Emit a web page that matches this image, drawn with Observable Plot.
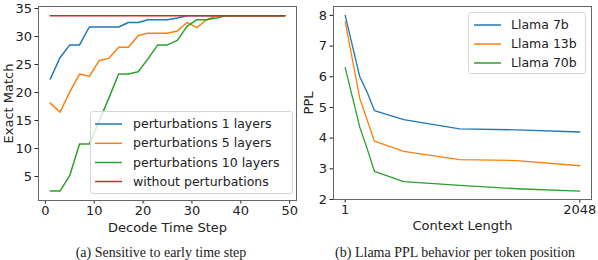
<!DOCTYPE html>
<html>
<head>
<meta charset="utf-8">
<script src="https://cdn.jsdelivr.net/npm/d3@7"></script>
<script src="https://cdn.jsdelivr.net/npm/@observablehq/plot@0.6"></script>
<style>
  body { margin: 0; background: #fff; }
  #root { position: relative; width: 598px; height: 260px; overflow: hidden; background: #fff; font-family: "DejaVu Sans", sans-serif; }
  .panel { position: absolute; top: 0; }
  .legend { position: absolute; border: 1px solid #d6d6d6; border-radius: 3px; background: rgba(255,255,255,0.8); box-sizing: border-box; }
  .legend svg { position: absolute; left: 0; top: 0; overflow: visible; }
  .legend .tx { position: absolute; white-space: nowrap; font-size: 12.5px; color: #222; line-height: 14px; transform: translateY(-7px); }
  .cap { position: absolute; font-family: "Liberation Serif", "DejaVu Serif", serif; font-size: 14px; line-height: 16px; color: #222; white-space: nowrap; transform: translateX(-50%); }
</style>
</head>
<body>
<div id="root"></div>
<script>
// ---- Left chart data (Exact Match vs decode time step) ----
const steps = [1,3,5,7,9,11,13,15,17,19,21,23,25,27,29,31,33,35,37,39,41,43,45,47,49];
const pert1  = [22.4,26.2,28.5,28.5,31.7,31.7,31.7,31.7,32.5,32.5,33.0,33.0,33.0,33.3,33.7,33.7,33.7,33.7,33.7,33.7,33.7,33.7,33.7,33.7,33.7];
const pert5  = [18.1,16.5,20.1,23.3,22.9,25.7,26.1,28.1,28.1,30.2,30.6,30.6,30.6,31.0,32.5,31.6,33.0,33.7,33.7,33.7,33.7,33.7,33.7,33.7,33.7];
const pert10 = [2.4,2.4,5.2,10.8,10.8,14.9,19.0,23.3,23.3,23.7,26.0,28.5,28.5,29.3,31.8,33.0,33.0,33.3,33.7,33.7,33.7,33.7,33.7,33.7,33.7];
const noPert = [33.7,33.7,33.7,33.7,33.7,33.7,33.7,33.7,33.7,33.7,33.7,33.7,33.7,33.7,33.7,33.7,33.7,33.7,33.7,33.7,33.7,33.7,33.7,33.7,33.7];
const leftNames = ["perturbations 1 layers","perturbations 5 layers","perturbations 10 layers","without perturbations"];
const leftColors = ["#1f77b4","#ff7f0e","#2ca02c","#d62728"];
const leftXTicks = [0,10,20,30,40,50];
const leftYTicks = [5,10,15,20,25,30,35];

// ---- Right chart data (Llama PPL vs context length) ----
const contextLen = [1,128,192,256,512,1000,1500,2048];
const llama7b  = [8.0,6.0,5.5,4.9,4.6,4.3,4.27,4.2];
const llama13b = [7.8,5.3,4.6,3.9,3.57,3.3,3.27,3.1];
const llama70b = [6.3,4.36,3.66,2.92,2.58,2.46,2.35,2.27];
const rightNames = ["Llama 7b","Llama 13b","Llama 70b"];
const rightColors = ["#1f77b4","#ff7f0e","#2ca02c"];
const rightXTicks = [1,2048];
const rightYTicks = [2,3,4,5,6,7,8];

const captions = ["(a) Sensitive to early time step", "(b) Llama PPL behavior per token position"];

const root = document.getElementById("root");
const axisStyle = {fontFamily: "'DejaVu Sans', sans-serif", fontSize: "13px", color: "#222", background: "transparent", overflow: "visible"};

// build tables
const leftSeries = [pert1, pert5, pert10, noPert];
const leftRows = [];
leftSeries.forEach((vals, i) => vals.forEach((v, j) => leftRows.push({step: steps[j], value: v, series: leftNames[i]})));
const rightSeries = [llama7b, llama13b, llama70b];
const rightRows = [];
rightSeries.forEach((vals, i) => vals.forEach((v, j) => rightRows.push({ctx: contextLen[j], value: v, series: rightNames[i]})));

const left = Plot.plot({
  width: 300, height: 235,
  marginLeft: 38, marginRight: 4, marginTop: 6, marginBottom: 35,
  style: axisStyle,
  x: {domain: [-1.4, 51.4], ticks: leftXTicks, tickFormat: d => String(d), tickSize: 3.5, tickPadding: 2, label: "Decode Time Step", labelAnchor: "center", labelOffset: 31, labelArrow: "none"},
  y: {domain: [0.72, 35.36], ticks: leftYTicks, tickFormat: d => String(d), tickSize: 3.5, tickPadding: 3, label: "Exact Match", labelAnchor: "center", labelOffset: 35, labelArrow: "none"},
  color: {domain: leftNames, range: leftColors},
  marks: [
    Plot.lineY(leftRows, {x: "step", y: "value", stroke: "series", z: "series", strokeWidth: 1.5}),
    Plot.frame({stroke: "#666", strokeWidth: 1})
  ]
});
const lp = document.createElement("div"); lp.className = "panel"; lp.style.left = "0px"; lp.appendChild(left); root.appendChild(lp);

const right = Plot.plot({
  width: 298, height: 235,
  marginLeft: 33, marginRight: 7, marginTop: 6, marginBottom: 36,
  style: axisStyle,
  x: {domain: [-101, 2150], ticks: rightXTicks, tickFormat: d => String(d), tickSize: 3.5, tickPadding: 2, label: "Context Length", labelAnchor: "center", labelOffset: 30, labelArrow: "none"},
  y: {domain: [2, 8.29], ticks: rightYTicks, tickFormat: d => String(d), tickSize: 3.5, tickPadding: 3, label: "PPL", labelAnchor: "center", labelOffset: 30, labelArrow: "none"},
  color: {domain: rightNames, range: rightColors},
  marks: [
    Plot.lineY(rightRows, {x: "ctx", y: "value", stroke: "series", z: "series", strokeWidth: 1.3}),
    Plot.frame({stroke: "#666", strokeWidth: 1})
  ]
});
const rp = document.createElement("div"); rp.className = "panel"; rp.style.left = "300px"; rp.appendChild(right); root.appendChild(rp);

const SVGNS = "http://www.w3.org/2000/svg";
function legend(names, colors, box, rowYs, swX, swW, txX) {
  const lg = document.createElement("div");
  lg.className = "legend";
  Object.assign(lg.style, {left: box[0] + "px", top: box[1] + "px", width: box[2] + "px", height: box[3] + "px"});
  const svg = document.createElementNS(SVGNS, "svg");
  svg.setAttribute("width", box[2]); svg.setAttribute("height", box[3]);
  names.forEach((n, i) => {
    const ln = document.createElementNS(SVGNS, "line");
    ln.setAttribute("x1", swX); ln.setAttribute("x2", swX + swW);
    ln.setAttribute("y1", rowYs[i]); ln.setAttribute("y2", rowYs[i]);
    ln.setAttribute("stroke", colors[i]); ln.setAttribute("stroke-width", 1.5);
    svg.appendChild(ln);
    const tx = document.createElement("div");
    tx.className = "tx";
    tx.textContent = n;
    Object.assign(tx.style, {left: txX + "px", top: rowYs[i] + "px"});
    lg.appendChild(tx);
  });
  lg.appendChild(svg);
  root.appendChild(lg);
}
legend(leftNames, leftColors, [90, 111, 203, 83], [12, 31.3, 50.5, 69.5], 4, 27, 42);
legend(rightNames, rightColors, [468, 12, 118, 62], [12, 31, 50], 5, 27, 42);

[[161, 245], [455, 245]].forEach((p, i) => {
  const c = document.createElement("div");
  c.className = "cap";
  c.textContent = captions[i];
  Object.assign(c.style, {left: p[0] + "px", top: p[1] + "px"});
  root.appendChild(c);
});
</script>
</body>
</html>
